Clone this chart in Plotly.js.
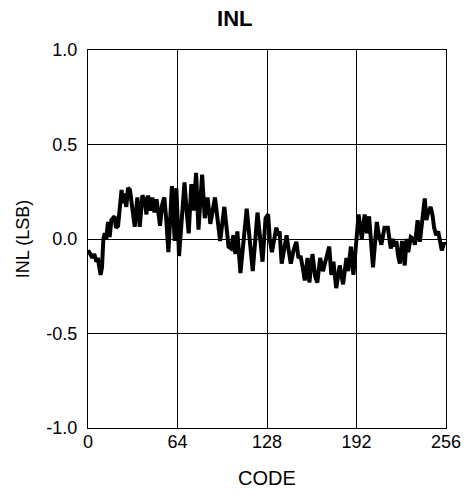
<!DOCTYPE html>
<html>
<head>
<meta charset="utf-8">
<script src="https://cdn.plot.ly/plotly-3.0.1.min.js"></script>
<style>
html,body{margin:0;padding:0;background:#fff;}
#chart{width:465px;height:495px;}
</style>
</head>
<body>
<div id="chart"></div>
<script>
// Code positions (x) and INL values in LSB (y)
const codes = [0,1,3,4.5,6,7,9,10,11,12,13,14.3,15.5,16.7,19,20,21.5,24,25,26,27.4,28.6,30,32,33.4,35.3,37,38.9,40.5,41.8,43,
  44.5,46,47.5,49,50.5,51.5,53,54.6,56,57.5,60,62,63.2,65.1,66.8,69,70.5,72,73.9,75.5,77.3,79,81.6,83.5,85.5,87.5,
  90.8,92.5,94.5,97.5,99,100.5,102.3,104,105.4,106.8,109,113.5,117.8,121.2,124.8,127,128.8,130,131.5,134.7,136,137,
  138.5,142,143.5,145,147,149,150.5,152,154,155,157,158.3,160.5,162.5,164,166,168,170.5,172.5,174,175.5,177.5,180,
  182.4,184.8,186,188,189.8,191,193.5,195.8,197.8,199.5,201,203.8,206.5,208,209.8,212,214.4,216.5,218,219.5,220.5,
  221.8,223,224.6,226.5,227.8,229,230.8,232.5,233.8,235.7,237.3,238.5,240.8,242,243.2,245,246.5,247.5,249,250.4,253,254.7,255.5];
const inl = [-0.06,-0.07,-0.10,-0.08,-0.12,-0.10,-0.19,-0.15,0.0,0.03,0.0,0.09,0.01,0.10,0.12,0.06,0.07,0.26,0.19,0.24,0.17,0.27,0.26,0.14,0.065,0.22,0.065,0.23,0.21,0.13,0.23,
  0.15,0.22,0.14,0.21,0.13,0.07,0.18,0.22,0.10,-0.07,0.28,-0.01,0.27,-0.09,0.08,0.30,0.15,0.03,0.29,0.15,0.35,0.05,0.34,0.11,0.22,0.08,
  0.22,0.12,-0.01,0.17,0.06,-0.04,-0.05,0.02,-0.08,0.04,-0.18,0.16,-0.17,0.14,-0.12,0.11,0.13,0.0,-0.07,0.06,0.02,0.04,
  -0.13,0.02,-0.06,-0.13,-0.06,-0.015,-0.10,-0.09,-0.17,-0.22,-0.10,-0.23,-0.08,-0.20,-0.23,-0.10,-0.17,-0.10,-0.04,-0.19,-0.12,-0.26,-0.14,
  -0.24,-0.10,-0.17,-0.04,-0.19,-0.08,0.13,0.0,0.13,0.03,0.12,-0.15,0.09,0.02,-0.03,0.06,0.06,-0.05,0.0,-0.04,-0.01,
  -0.09,-0.13,-0.01,-0.14,0.0,-0.07,0.01,0.0,-0.03,0.10,-0.015,0.08,0.215,0.10,0.14,0.17,0.12,0.06,0.02,0.04,-0.06,-0.02,-0.03];
const xTicks = [0,64,128,192,256];
const xTickText = ['0','64','128','192','256'];
const yTicks = [-1.0,-0.5,0.0,0.5,1.0];
const yTickText = ['-1.0','-0.5','0.0','0.5','1.0'];

const font = 'Liberation Sans, Arial, sans-serif';
const data = [{
  x: codes, y: inl, type: 'scatter', mode: 'lines',
  line: {color: '#000', width: 4}, hoverinfo: 'skip'
}];
const layout = {
  width: 465, height: 495,
  margin: {l: 88, r: 19, t: 50, b: 67},
  paper_bgcolor: '#fff', plot_bgcolor: '#fff',
  showlegend: false,
  font: {family: font, color: '#000', size: 18},
  title: {text: '<b>INL</b>', x: 0.505, xref: 'container', y: 0.964, yref: 'container', yanchor: 'middle',
          font: {family: font, size: 22, color: '#000'}},
  xaxis: {
    range: [0, 256], tickmode: 'array', tickvals: xTicks, ticktext: xTickText,
    showgrid: true, gridcolor: '#000', gridwidth: 1, zeroline: false,
    showline: true, linecolor: '#000', linewidth: 1, mirror: true,
    ticks: '', ticklabelstandoff: -3, tickfont: {family: font, size: 18, color: '#000'},
    title: {text: 'CODE', font: {family: font, size: 20, color: '#000'}, standoff: 20}
  },
  yaxis: {
    range: [-1, 1], tickmode: 'array', tickvals: yTicks, ticktext: yTickText,
    showgrid: true, gridcolor: '#000', gridwidth: 1, zeroline: false,
    showline: true, linecolor: '#000', linewidth: 1, mirror: true,
    ticks: '', ticklabelstandoff: 6, tickfont: {family: font, size: 18, color: '#000'},
    title: {text: 'INL (LSB)', font: {family: font, size: 18, color: '#000'}, standoff: 12}
  }
};
Plotly.newPlot('chart', data, layout, {staticPlot: true, displayModeBar: false});
</script>
</body>
</html>
